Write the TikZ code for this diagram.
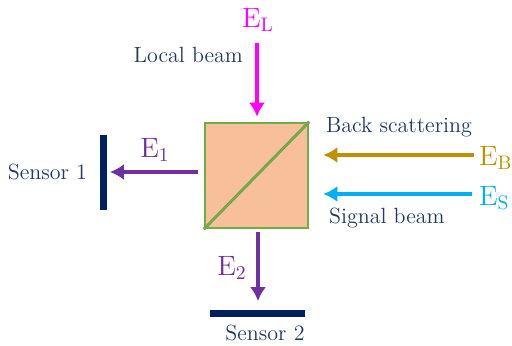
\documentclass[tikz,border=0pt]{standalone}
\usepackage{xcolor}
\usepackage{tikz}
\usetikzlibrary{positioning,arrows.meta}

\definecolor{peach}{HTML}{F7BF9A}
\definecolor{leaf}{HTML}{70AD47}
\definecolor{navy}{HTML}{1F3864}
\definecolor{barblue}{HTML}{002060}
\definecolor{violet}{HTML}{7030A0}
\definecolor{pink}{HTML}{FF00FF}
\definecolor{gold}{HTML}{BF9000}
\definecolor{sky}{HTML}{00B0F0}

\begin{document}
\begin{tikzpicture}[
    x=0.5pt, y=0.5pt,
    cube/.style={
        rectangle,draw=leaf,fill=peach,line width=1.3pt,
        minimum width=51.5pt,
        minimum height=52.5pt
    },
    sensor/.style={rectangle,fill=barblue,inner sep=0pt},
    label/.style={text=navy,font=\fontsize{11}{13}\selectfont},
    field/.style={font=\fontsize{14}{16}\selectfont},
    beam/.style={line width=2pt,-{Latex[length=7pt,width=8pt]}}
]
\useasboundingbox (0,0) rectangle (512,345);

\node[cube] (splitter) at (256.5,169.5) {};
\draw[leaf,line width=1.5pt] (splitter.south west) -- (splitter.north east);

\node[sensor, minimum width=3.5pt, minimum height=37.5pt] (sensor1) at (103,173) {};
\node[sensor, minimum width=47.5pt, minimum height=3.5pt] (sensor2) at (257.5,32) {};
\node[label, anchor=east] (sensor1text) at (94,173) {Sensor 1};
\node[label] (sensor2text) at (265,12) {Sensor 2};

\node[field, text=pink] (EL) at (258,325) {E\textsubscript{L}};
\node[label, anchor=east] (localtext) at (250,290) {Local beam};
\node[field, text=violet] (E1) at (155,195) {E\textsubscript{1}};
\node[field, text=violet] (E2) at (232,77) {E\textsubscript{2}};
\node[field, text=gold, anchor=west] (EB) at (472,187) {E\textsubscript{B}};
\node[field, text=sky, anchor=west] (ES) at (472,147) {E\textsubscript{S}};
\node[label, anchor=west] (backtext) at (319,218) {Back scattering};
\node[label, anchor=west] (signaltext) at (322,127) {Signal beam};

\coordinate (localin) at (257,302);
\coordinate (out1) at (198,173);
\coordinate (out2) at (258,113);
\coordinate (backin) at (474,190);
\coordinate (signalin) at (472,151);

\draw[beam,pink,shorten >=2.5pt] (localin) -- (localin |- splitter.north);
\draw[beam,violet,shorten >=1.5pt] (out1) -- (sensor1.east);
\draw[beam,violet,shorten >=4pt] (out2) -- (out2 |- sensor2.north);
\draw[beam,gold,shorten >=7pt] (backin) -- (splitter.east |- backin);
\draw[beam,sky,shorten >=7pt] (signalin) -- (splitter.east |- signalin);
\end{tikzpicture}
\end{document}
